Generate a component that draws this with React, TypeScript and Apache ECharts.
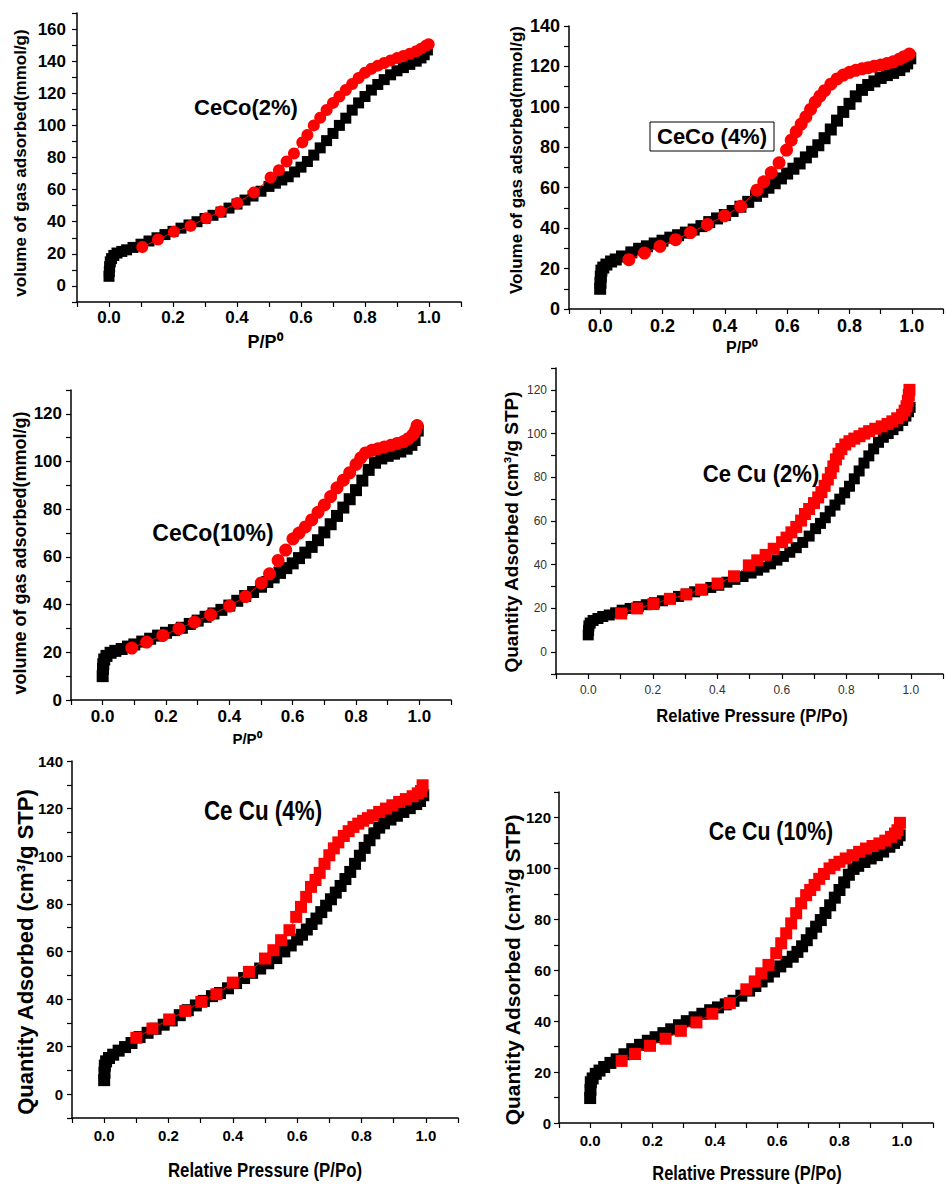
import { useEffect, useRef } from "react";
import * as echarts from "echarts";

// ---------- data: [relative pressure, quantity adsorbed] ----------
const ceCo2Ads: [number, number][] = [
  [0, 6], [0.001, 9], [0.002, 12], [0.004, 15], [0.008, 17], [0.015, 19], [0.025, 20.5], [0.04, 21.5],
  [0.055, 22.5], [0.075, 24], [0.1, 26], [0.125, 28], [0.15, 30], [0.175, 32], [0.2, 34], [0.225, 36],
  [0.25, 38], [0.275, 40], [0.3, 42], [0.325, 44], [0.35, 46], [0.375, 48.5], [0.4, 51], [0.425, 53.5],
  [0.45, 56], [0.475, 59], [0.5, 62], [0.52, 64], [0.54, 66], [0.56, 68], [0.58, 71], [0.6, 74],
  [0.62, 77.5], [0.64, 81.5], [0.66, 86], [0.68, 90.5], [0.7, 95], [0.72, 100], [0.74, 104.5], [0.76, 109.5],
  [0.78, 114], [0.8, 118], [0.82, 122], [0.84, 125.5], [0.86, 128.5], [0.88, 131.5], [0.9, 134], [0.92, 136],
  [0.94, 138], [0.96, 140], [0.975, 142], [0.985, 144], [0.995, 147],
];
const ceCo2Des: [number, number][] = [
  [0.104, 24.3], [0.153, 28.9], [0.203, 33.7], [0.255, 37.4], [0.304, 42.2], [0.349, 46.3], [0.401, 51.7],
  [0.453, 58.2], [0.505, 67.5], [0.531, 72.1], [0.555, 77.5], [0.578, 82.5], [0.604, 89.4], [0.62, 94],
  [0.64, 100], [0.66, 104.8], [0.68, 109.6], [0.7, 114], [0.72, 118], [0.74, 122], [0.76, 125.8], [0.78, 129.5],
  [0.8, 132.8], [0.82, 135.3], [0.84, 137.2], [0.86, 138.9], [0.88, 140.4], [0.9, 141.9], [0.92, 143.2],
  [0.94, 144.6], [0.96, 146.2], [0.975, 147.8], [0.99, 149.6], [0.999, 150.6],
];

const ceCo4Ads: [number, number][] = [
  [0, 10], [0.001, 13], [0.002, 16], [0.004, 19], [0.01, 20.5], [0.02, 22], [0.035, 23.5], [0.05, 24.5],
  [0.07, 26], [0.1, 28], [0.125, 29.8], [0.15, 31], [0.175, 32.4], [0.2, 33.8], [0.225, 35.3], [0.25, 36.5],
  [0.275, 37.8], [0.3, 39.3], [0.325, 41], [0.35, 43], [0.375, 44.8], [0.4, 46.5], [0.425, 48.5], [0.45, 50.6],
  [0.475, 53], [0.5, 56], [0.52, 58], [0.54, 60], [0.56, 62.2], [0.58, 64.6], [0.6, 67], [0.62, 69.4],
  [0.64, 72], [0.66, 75], [0.68, 77.8], [0.7, 81], [0.72, 84.5], [0.74, 88.8], [0.76, 93.2], [0.78, 97.5],
  [0.8, 101.5], [0.82, 105.2], [0.84, 108.4], [0.86, 110.8], [0.88, 112.6], [0.9, 114.3], [0.92, 115.7],
  [0.94, 116.8], [0.96, 118.2], [0.975, 120], [0.985, 121.5], [0.995, 124],
];
const ceCo4Des: [number, number][] = [
  [0.092, 24.4], [0.142, 27.7], [0.192, 31], [0.242, 34.3], [0.29, 37.8], [0.344, 41.8], [0.399, 46.1],
  [0.451, 50.8], [0.503, 58.8], [0.525, 62.9], [0.549, 67.5], [0.574, 72.3], [0.598, 78.6], [0.613, 83.5],
  [0.629, 87.7], [0.645, 91.5], [0.66, 95], [0.675, 98.7], [0.69, 102.3], [0.705, 105.3], [0.72, 108],
  [0.74, 111.2], [0.76, 113.8], [0.78, 115.7], [0.8, 117.1], [0.82, 118.1], [0.84, 118.8], [0.86, 119.4],
  [0.88, 120.1], [0.9, 120.7], [0.92, 121.4], [0.94, 122.3], [0.96, 123.6], [0.975, 124.8], [0.992, 126.1],
];

const ceCo10Ads: [number, number][] = [
  [0, 10], [0.001, 13], [0.002, 15], [0.005, 17], [0.012, 18.5], [0.025, 19.8], [0.04, 20.6], [0.06, 21.4],
  [0.08, 22.4], [0.1, 23.3], [0.125, 24.5], [0.15, 25.7], [0.175, 27], [0.2, 28.2], [0.225, 29.3], [0.25, 30.3],
  [0.275, 31.9], [0.3, 33.3], [0.325, 34.9], [0.35, 36.3], [0.375, 37.8], [0.4, 39.6], [0.425, 41.6], [0.45, 43.6],
  [0.475, 45.3], [0.5, 47.5], [0.52, 49.5], [0.54, 51.4], [0.56, 53.3], [0.58, 55.3], [0.6, 57.3], [0.62, 59.5],
  [0.64, 61.8], [0.66, 64.2], [0.68, 67], [0.7, 70.3], [0.72, 73.7], [0.74, 77.2], [0.76, 80.7], [0.78, 84.2],
  [0.8, 88], [0.82, 92], [0.84, 96.5], [0.86, 99.5], [0.88, 101.3], [0.9, 102.4], [0.92, 103.3], [0.94, 104.2],
  [0.96, 105.4], [0.975, 107], [0.985, 109], [0.995, 113],
];
const ceCo10Des: [number, number][] = [
  [0.092, 21.8], [0.139, 24.3], [0.19, 27.1], [0.241, 29.9], [0.29, 32.7], [0.341, 35.7], [0.401, 39.4],
  [0.451, 43.4], [0.501, 49.1], [0.527, 52.9], [0.554, 58.5], [0.578, 62.9], [0.601, 67.6], [0.62, 70],
  [0.64, 72.6], [0.66, 75.5], [0.68, 78.7], [0.7, 81.8], [0.72, 85.3], [0.74, 89], [0.76, 92.2], [0.78, 95.3],
  [0.8, 98.8], [0.815, 101.5], [0.83, 103.6], [0.85, 104.7], [0.87, 105.4], [0.89, 106.1], [0.91, 106.8],
  [0.93, 107.6], [0.95, 108.4], [0.965, 109.6], [0.98, 111.3], [0.988, 113], [0.993, 115.1],
];

const ceCu2Ads: [number, number][] = [
  [0, 7.9], [0.001, 10], [0.002, 12], [0.006, 13.3], [0.015, 14.5], [0.03, 15.4], [0.045, 16.3], [0.065, 17],
  [0.085, 18], [0.105, 19.2], [0.13, 20], [0.155, 20.8], [0.18, 21.7], [0.205, 22.6], [0.23, 23.5], [0.255, 24.4],
  [0.28, 25.5], [0.305, 26.6], [0.33, 27.6], [0.355, 28.5], [0.38, 29.6], [0.405, 30.6], [0.43, 32], [0.455, 33.3],
  [0.48, 34.6], [0.505, 36.2], [0.525, 37.5], [0.545, 38.9], [0.565, 40.4], [0.585, 42.1], [0.605, 43.8],
  [0.625, 45.7], [0.645, 47.8], [0.665, 50.2], [0.685, 53.1], [0.705, 56.5], [0.72, 58.9], [0.735, 61.5],
  [0.75, 64.5], [0.765, 67.3], [0.78, 70], [0.795, 72.9], [0.81, 75.9], [0.825, 79.3], [0.84, 82.9],
  [0.855, 86.5], [0.87, 89.8], [0.885, 93], [0.9, 96], [0.915, 98.3], [0.93, 100], [0.945, 101.8],
  [0.96, 103.6], [0.975, 106], [0.985, 108], [0.993, 110], [0.998, 112],
];
const ceCu2Des: [number, number][] = [
  [0.102, 17.7], [0.151, 20], [0.202, 22], [0.253, 24.4], [0.304, 26.4], [0.35, 28.6], [0.401, 31.4],
  [0.452, 34.7], [0.498, 39.7], [0.524, 42], [0.55, 44.5], [0.575, 47.3], [0.601, 50.3], [0.615, 52.4],
  [0.63, 54.8], [0.645, 57.3], [0.66, 60.2], [0.672, 63.2], [0.685, 65.5], [0.7, 68.2], [0.713, 70.8],
  [0.723, 73.2], [0.733, 76.1], [0.743, 79], [0.752, 82], [0.76, 85], [0.768, 88.2], [0.776, 90.8],
  [0.785, 92.9], [0.797, 95], [0.81, 96.5], [0.825, 97.7], [0.841, 98.8], [0.856, 100], [0.871, 101.1],
  [0.89, 102.2], [0.91, 103.3], [0.928, 104.4], [0.943, 105.6], [0.958, 107], [0.973, 108.6], [0.981, 110.5],
  [0.987, 112.5], [0.991, 115], [0.994, 117.7], [0.996, 120],
];

const ceCu4Ads: [number, number][] = [
  [0, 5.9], [0.001, 9], [0.002, 12], [0.006, 13.8], [0.015, 15.2], [0.028, 16.6], [0.045, 18.3], [0.065, 19.8],
  [0.085, 21.5], [0.11, 24], [0.135, 25.8], [0.16, 27.5], [0.185, 29.2], [0.21, 31], [0.235, 33.2], [0.26, 35.3],
  [0.285, 37.3], [0.31, 39.2], [0.335, 41.2], [0.36, 42.5], [0.385, 44.5], [0.41, 46.7], [0.435, 48.8], [0.46, 51],
  [0.485, 52.8], [0.51, 55], [0.535, 57.2], [0.56, 60], [0.58, 62.5], [0.6, 65], [0.615, 67], [0.63, 69.2],
  [0.645, 71.5], [0.66, 73.8], [0.675, 76.5], [0.69, 79.2], [0.705, 81.9], [0.72, 84.7], [0.735, 87.5],
  [0.75, 90.4], [0.765, 93.4], [0.78, 96.8], [0.795, 100.2], [0.81, 103.5], [0.825, 106.7], [0.84, 109.6],
  [0.855, 112], [0.87, 113.8], [0.89, 115.4], [0.91, 117], [0.93, 118.6], [0.95, 120.2], [0.97, 121.9],
  [0.982, 123.2], [0.992, 125.6],
];
const ceCu4Des: [number, number][] = [
  [0.1, 23.7], [0.15, 27.6], [0.202, 31.4], [0.252, 35], [0.302, 38.8], [0.349, 42], [0.4, 46.9],
  [0.45, 51.4], [0.5, 57], [0.526, 60.5], [0.55, 64.7], [0.576, 68.9], [0.597, 74.5], [0.612, 78.7],
  [0.628, 82.9], [0.643, 87.1], [0.657, 90], [0.67, 93], [0.685, 96.8], [0.7, 100.4], [0.714, 103.3],
  [0.728, 105.8], [0.745, 108.5], [0.76, 110.5], [0.775, 112.3], [0.79, 113.7], [0.805, 114.9], [0.82, 116],
  [0.835, 117.2], [0.855, 118.6], [0.876, 120], [0.896, 121.4], [0.917, 122.8], [0.938, 124], [0.959, 125.2],
  [0.975, 126.4], [0.985, 127.4], [0.99, 129.8],
];

const ceCu10Ads: [number, number][] = [
  [0, 9.8], [0.001, 13], [0.002, 16], [0.008, 17.5], [0.018, 19.3], [0.03, 20.6], [0.045, 22], [0.065, 23.6],
  [0.085, 25], [0.11, 27], [0.135, 29], [0.16, 30.7], [0.185, 32.3], [0.21, 33.7], [0.235, 35.3], [0.26, 36.8],
  [0.285, 38.4], [0.31, 40], [0.335, 41.5], [0.36, 42.9], [0.385, 44.3], [0.41, 45.4], [0.435, 46.6], [0.46, 48],
  [0.485, 50], [0.51, 52], [0.53, 53.8], [0.55, 55.6], [0.57, 57.5], [0.59, 59.5], [0.61, 61.5], [0.63, 63.3],
  [0.65, 65.3], [0.665, 67.2], [0.68, 69.4], [0.695, 71.8], [0.71, 74.5], [0.725, 77.1], [0.74, 79.7],
  [0.755, 82.5], [0.77, 85.5], [0.785, 88.5], [0.8, 91.5], [0.815, 94.5], [0.83, 97.5], [0.845, 99.8],
  [0.86, 101], [0.88, 102.5], [0.9, 103.9], [0.92, 105.2], [0.94, 106.6], [0.96, 108.5], [0.975, 110],
  [0.985, 111.2], [0.993, 113],
];
const ceCu10Des: [number, number][] = [
  [0.101, 24.4], [0.144, 27.1], [0.192, 30.3], [0.242, 33.1], [0.291, 36.2], [0.341, 39.5], [0.392, 42.9],
  [0.448, 47.1], [0.501, 52.5], [0.528, 55.6], [0.549, 58.8], [0.572, 62.1], [0.597, 66.7], [0.613, 70.6],
  [0.629, 74.5], [0.645, 78.4], [0.661, 82.4], [0.677, 86.3], [0.693, 89.5], [0.706, 91.5], [0.72, 93.5],
  [0.735, 95.9], [0.75, 97.8], [0.768, 100], [0.784, 101.4], [0.8, 102.6], [0.82, 103.9], [0.842, 105.2],
  [0.863, 106.5], [0.885, 107.8], [0.906, 108.8], [0.928, 109.8], [0.947, 110.9], [0.965, 112.4],
  [0.978, 113.7], [0.986, 115], [0.994, 117.9],
];

// ---------- texts ----------
const sampleNames = ["CeCo(2%)", "CeCo (4%)", "CeCo(10%)", "Ce Cu (2%)", "Ce Cu (4%)", "Ce Cu (10%)"];
const yTitles = [
  "volume of gas adsorbed(mmol/g)",
  "Volume of gas adsorbed(mmol/g)",
  "volume of gas adsorbed(mmol/g)",
  "Quantity Adsorbed (cm³/g STP)",
  "Quantity Adsorbed (cm³/g STP)",
  "Quantity Adsorbed (cm³/g STP)",
];
const xTitles = ["P/P⁰", "P/P⁰", "P/P⁰", "Relative Pressure (P/Po)", "Relative Pressure (P/Po)", "Relative Pressure (P/Po)"];
const yRanges: [number, number, number][] = [
  [-10, 170, 160],
  [0, 140, 140],
  [0, 130, 120],
  [-10, 130, 120],
  [-10, 140, 140],
  [0, 130, 120],
];

const SANS = "'Liberation Sans', Arial, sans-serif";

type TextSpec = { x: number; y: number; size: number; sx?: number };
type PanelLayout = {
  grid: { left: number; top: number; width: number; height: number };
  tickFont: { size: number; weight: string; color: string };
  yMargin: number;
  xMargin: number;
  symbolDes: string;
  sizeAds: number;
  sizeDes: number;
  title: TextSpec & { box?: boolean };
  yT: TextSpec;
  xT: TextSpec;
};

const layouts: PanelLayout[] = [
  {
    grid: { left: 77, top: 13, width: 384, height: 289 },
    tickFont: { size: 17, weight: "bold", color: "#000" },
    yMargin: 11, xMargin: 7, symbolDes: "circle", sizeAds: 11, sizeDes: 12,
    title: { x: 246, y: 107, size: 22 },
    yT: { x: 20, y: 163, size: 17 },
    xT: { x: 265, y: 342, size: 18 },
  },
  {
    grid: { left: 569, top: 26, width: 385, height: 283 },
    tickFont: { size: 18, weight: "bold", color: "#000" },
    yMargin: 9, xMargin: 8, symbolDes: "circle", sizeAds: 12, sizeDes: 13,
    title: { x: 712, y: 136, size: 22, box: true },
    yT: { x: 516, y: 160, size: 17 },
    xT: { x: 742, y: 347, size: 16 },
  },
  {
    grid: { left: 71, top: 390, width: 380, height: 310 },
    tickFont: { size: 17, weight: "bold", color: "#000" },
    yMargin: 9, xMargin: 8, symbolDes: "circle", sizeAds: 12, sizeDes: 13,
    title: { x: 213, y: 533, size: 23 },
    yT: { x: 20, y: 553, size: 18 },
    xT: { x: 247, y: 738, size: 15 },
  },
  {
    grid: { left: 556, top: 368, width: 391, height: 306 },
    tickFont: { size: 12, weight: "normal", color: "#333" },
    yMargin: 9, xMargin: 10, symbolDes: "rect", sizeAds: 11, sizeDes: 12,
    title: { x: 761, y: 474, size: 24, sx: 0.92 },
    yT: { x: 511, y: 532, size: 19 },
    xT: { x: 752, y: 716, size: 18, sx: 0.92 },
  },
  {
    grid: { left: 72, top: 761, width: 386, height: 357 },
    tickFont: { size: 15, weight: "bold", color: "#000" },
    yMargin: 9, xMargin: 10, symbolDes: "rect", sizeAds: 12, sizeDes: 12,
    title: { x: 263, y: 810, size: 28, sx: 0.8 },
    yT: { x: 25, y: 952, size: 22 },
    xT: { x: 265, y: 1170, size: 20, sx: 0.84 },
  },
  {
    grid: { left: 559, top: 792, width: 374, height: 331 },
    tickFont: { size: 15, weight: "bold", color: "#000" },
    yMargin: 8, xMargin: 10, symbolDes: "rect", sizeAds: 12, sizeDes: 12,
    title: { x: 771, y: 831, size: 26, sx: 0.82 },
    yT: { x: 512, y: 970, size: 21 },
    xT: { x: 747, y: 1173, size: 20, sx: 0.82 },
  },
];

const adsData = [ceCo2Ads, ceCo4Ads, ceCo10Ads, ceCu2Ads, ceCu4Ads, ceCu10Ads];
const desData = [ceCo2Des, ceCo4Des, ceCo10Des, ceCu2Des, ceCu4Des, ceCu10Des];

function textEl(t: TextSpec, text: string, rotate: boolean) {
  return {
    type: "text",
    x: t.x,
    y: t.y,
    rotation: rotate ? Math.PI / 2 : 0,
    scaleX: t.sx ?? 1,
    z: 11,
    style: {
      text,
      fontSize: t.size,
      fontWeight: "bold",
      fontFamily: SANS,
      fill: "#000",
      align: "center",
      verticalAlign: "middle",
    },
  };
}

export default function App() {
  const ref = useRef<HTMLDivElement>(null);

  useEffect(() => {
    if (!ref.current) return;
    const chart = echarts.init(ref.current, undefined, { renderer: "svg" });

    const grids: any[] = [];
    const xAxes: any[] = [];
    const yAxes: any[] = [];
    const series: any[] = [];
    const graphics: any[] = [];

    layouts.forEach((L, i) => {
      grids.push({ ...L.grid, containLabel: false });
      const [yMin, yMax, yLabMax] = yRanges[i];
      const axisLine = { show: true, onZero: false, lineStyle: { color: "#000", width: 1.5 } };
      const labelStyle = {
        fontSize: L.tickFont.size,
        fontWeight: L.tickFont.weight,
        fontFamily: SANS,
        color: L.tickFont.color,
      };
      xAxes.push({
        type: "value",
        gridIndex: i,
        min: -0.1,
        max: 1.1,
        interval: 0.1,
        axisLine,
        axisTick: { show: true, length: 5, lineStyle: { color: "#000", width: 1.2 } },
        splitLine: { show: false },
        axisLabel: {
          ...labelStyle,
          margin: L.xMargin,
          showMinLabel: true,
          showMaxLabel: true,
          formatter: (v: number) => {
            const t = Math.round(v * 10);
            return t >= 0 && t <= 10 && t % 2 === 0 ? (t / 10).toFixed(1) : "";
          },
        },
      });
      yAxes.push({
        type: "value",
        gridIndex: i,
        min: yMin,
        max: yMax,
        interval: 10,
        axisLine,
        axisTick: { show: true, length: 5, lineStyle: { color: "#000", width: 1.2 } },
        splitLine: { show: false },
        axisLabel: {
          ...labelStyle,
          margin: L.yMargin,
          showMinLabel: true,
          showMaxLabel: true,
          formatter: (v: number) => {
            const t = Math.round(v);
            return t >= 0 && t <= yLabMax && t % 20 === 0 ? String(t) : "";
          },
        },
      });
      series.push({
        type: "line",
        xAxisIndex: i,
        yAxisIndex: i,
        data: adsData[i],
        symbol: "rect",
        symbolSize: L.sizeAds,
        showAllSymbol: true,
        itemStyle: { color: "#000" },
        lineStyle: { color: "#000", width: 1 },
        z: 2,
      });
      series.push({
        type: "line",
        xAxisIndex: i,
        yAxisIndex: i,
        data: desData[i],
        symbol: L.symbolDes,
        symbolSize: L.sizeDes,
        showAllSymbol: true,
        itemStyle: { color: "#ff0000" },
        lineStyle: { color: "#ff0000", width: 1 },
        z: 3,
      });

      if (L.title.box) {
        graphics.push({
          type: "rect",
          shape: { x: 650, y: 122, width: 124, height: 29 },
          style: { fill: "#fff", stroke: "#000", lineWidth: 1 },
          z: 10,
        });
      }
      graphics.push(textEl(L.title, sampleNames[i], false));
      graphics.push(textEl(L.yT, yTitles[i], true));
      graphics.push(textEl(L.xT, xTitles[i], false));
    });

    chart.setOption({
      animation: false,
      backgroundColor: "#fff",
      grid: grids,
      xAxis: xAxes,
      yAxis: yAxes,
      series,
      graphic: { elements: graphics },
    });

    return () => chart.dispose();
  }, []);

  return (
    <div
      ref={ref}
      style={{ position: "absolute", left: 0, top: 0, width: 946, height: 1186, background: "#fff" }}
    />
  );
}
